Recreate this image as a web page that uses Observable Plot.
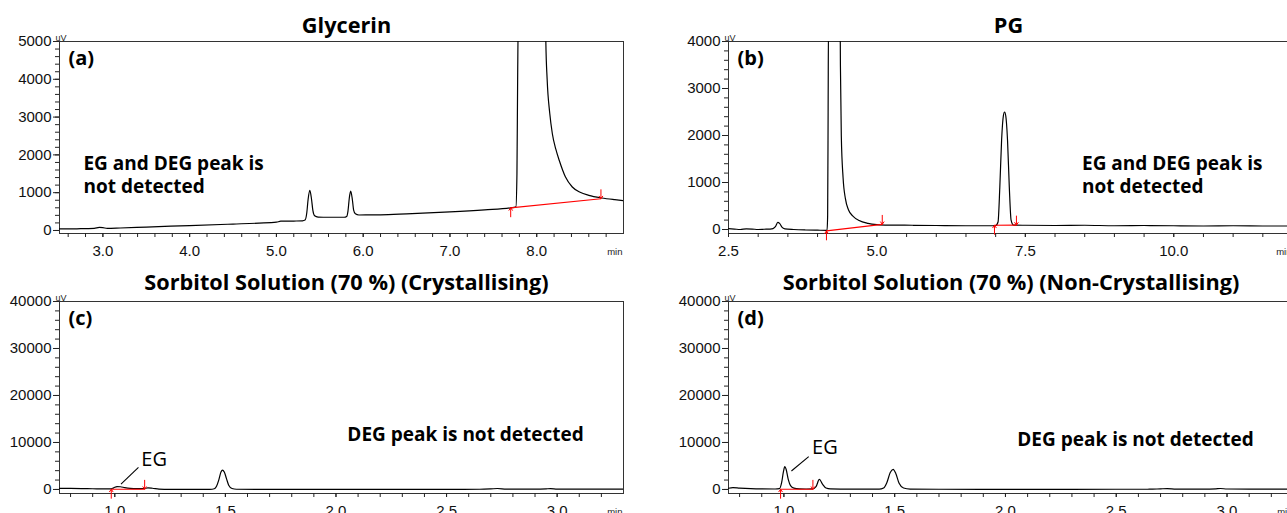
<!DOCTYPE html>
<html>
<head>
<meta charset="utf-8">
<script src="https://cdn.jsdelivr.net/npm/d3@7"></script>
<script src="https://cdn.jsdelivr.net/npm/@observablehq/plot@0.6"></script>
<style>
  body { margin: 0; background: #fff; }
  #chart { position: relative; width: 1287px; height: 513px; overflow: hidden; background: #fff; }
  #chart > div { position: absolute; }
  #chart svg { max-width: none !important; }
</style>
</head>
<body>
<div id="chart"></div>
<script>
// ---------- Panel titles / labels ----------
const panelTitles = ["Glycerin", "PG", "Sorbitol Solution (70 %) (Crystallising)", "Sorbitol Solution (70 %) (Non-Crystallising)"];
const panelTags = ["(a)", "(b)", "(c)", "(d)"];

// ---------- Axis ticks ----------
const glyXTicks = [3, 4, 5, 6, 7, 8];
const glyYTicks = [0, 1000, 2000, 3000, 4000, 5000];
const pgXTicks = [2.5, 5, 7.5, 10];
const pgYTicks = [0, 1000, 2000, 3000, 4000];
const sorbXTicks = [1.0, 1.5, 2.0, 2.5, 3.0];
const sorbYTicks = [0, 10000, 20000, 30000, 40000];

// ---------- Axis extents ----------
const glyXDomain = [2.5, 9.0];
const glyYDomain = [-80, 5000];
const pgXDomain = [2.5, 12.0];
const pgYDomain = [-85, 4000];
const sorbXDomain = [0.75, 3.3];
const sorbYDomain = [-860, 40000];

// ---------- Chromatogram traces [time (min), signal (uV)] ----------
const glycerinTrace = [
  [2.50, 40], [2.70, 45], [2.90, 55], [2.96, 80], [3.00, 75], [3.05, 55], [3.20, 65], [3.50, 90],
  [4.00, 130], [4.50, 170], [4.80, 195], [5.00, 220], [5.05, 245], [5.20, 250], [5.30, 255],
  [5.33, 275], [5.35, 470], [5.365, 820], [5.385, 1060], [5.405, 820], [5.42, 530], [5.44, 390],
  [5.48, 355], [5.60, 350], [5.78, 350], [5.81, 370], [5.825, 520], [5.84, 860], [5.856, 1040],
  [5.875, 820], [5.89, 540], [5.91, 440], [5.95, 410], [6.20, 415], [6.50, 440], [7.00, 490],
  [7.40, 545], [7.70, 600], [7.76, 625], [7.772, 1500], [7.78, 4000], [7.79, 6000], [8.10, 6000],
  [8.105, 5000], [8.12, 4000], [8.15, 3100], [8.18, 2560], [8.22, 2150], [8.26, 1850], [8.33, 1420],
  [8.41, 1150], [8.50, 1010], [8.60, 930], [8.75, 860], [8.90, 815], [9.00, 790]
];
const pgTrace = [
  [2.5, 20], [2.6, 10], [2.7, 0], [2.8, 15], [2.9, 10], [3.0, 0], [3.1, 5], [3.2, 10], [3.25, 20],
  [3.29, 60], [3.33, 150], [3.36, 130], [3.4, 50], [3.45, 15], [3.6, 0], [3.8, -10], [4.0, -15],
  [4.16, -18], [4.17, 300], [4.178, 2500], [4.185, 4500], [4.38, 4500], [4.385, 3500], [4.40, 2000],
  [4.43, 1100], [4.47, 650], [4.52, 420], [4.6, 280], [4.7, 190], [4.85, 130], [5.0, 105], [5.2, 95],
  [5.6, 90], [6.0, 85], [6.5, 80], [6.9, 80], [7.0, 85], [7.04, 160], [7.07, 900], [7.1, 1900],
  [7.13, 2420], [7.15, 2500], [7.17, 2420], [7.2, 1900], [7.23, 900], [7.26, 200], [7.3, 95],
  [7.5, 90], [8.0, 85], [8.5, 90], [9.0, 80], [9.5, 85], [10.0, 80], [10.5, 75], [11.0, 80],
  [11.5, 75], [12.0, 75]
];
const crystallisingTrace = [
  [0.75, 250], [0.8, 220], [0.85, 180], [0.9, 150], [0.95, 110], [0.98, 120], [0.995, 350],
  [1.01, 600], [1.025, 580], [1.045, 380], [1.07, 220], [1.1, 160], [1.13, 200], [1.15, 330],
  [1.17, 260], [1.2, 90], [1.25, 30], [1.35, 20], [1.43, 25], [1.45, 150], [1.46, 700], [1.47, 2000],
  [1.48, 3700], [1.487, 4130], [1.495, 3700], [1.505, 2300], [1.515, 900], [1.53, 200], [1.55, 40],
  [1.7, 20], [2.0, 15], [2.3, 20], [2.5, 30], [2.65, 40], [2.7, 120], [2.73, 200], [2.77, 80],
  [2.9, 50], [2.95, 120], [2.97, 180], [3.0, 90], [3.1, 70], [3.2, 80], [3.3, 60]
];
const nonCrystallisingTrace = [
  [0.75, 250], [0.77, 400], [0.8, 300], [0.85, 180], [0.9, 120], [0.96, 100], [0.98, 160],
  [0.99, 1500], [0.998, 3800], [1.004, 4840], [1.01, 4300], [1.02, 2100], [1.03, 800], [1.045, 280],
  [1.07, 130], [1.1, 100], [1.13, 130], [1.145, 600], [1.16, 2140], [1.175, 1100], [1.19, 300],
  [1.21, 110], [1.3, 50], [1.43, 50], [1.45, 300], [1.465, 1500], [1.48, 3600], [1.493, 4280],
  [1.505, 3400], [1.52, 1300], [1.54, 300], [1.57, 80], [1.7, 40], [2.0, 30], [2.3, 35], [2.5, 40],
  [2.65, 50], [2.7, 130], [2.73, 180], [2.77, 80], [2.9, 60], [2.95, 140], [2.97, 200], [3.0, 100],
  [3.1, 80], [3.3, 90]
];

// ---------- Integration baselines [t1, v1, t2, v2] ----------
const glycerinBaselines = [[7.70, 600, 8.74, 840]];
const pgBaselines = [[4.15, -30, 5.09, 110], [6.98, 90, 7.35, 95]];
const crystallisingBaselines = [[0.984, 40, 1.135, 40]];
const nonCrystallisingBaselines = [[0.985, 40, 1.131, 40]];

// ---------- Annotations ----------
const glycerinNote = [{t: 2.776, v: 1480, text: "EG and DEG peak is\nnot detected"}];
const pgNote = [{t: 8.455, v: 1174, text: "EG and DEG peak is\nnot detected"}];
const crystallisingNote = [{t: 2.586, v: 11840, text: "DEG peak is not detected"}];
const nonCrystallisingNote = [{t: 2.587, v: 10700, text: "DEG peak is not detected"}];
// EG label [text position t, v] and leader line [t1, v1, t2, v2]
const crystallisingEG = [{t: 1.178, v: 6270, text: "EG"}];
const crystallisingEGLeader = [[1.028, 1135, 1.107, 4710]];
const nonCrystallisingEG = [{t: 1.185, v: 8840, text: "EG"}];
const nonCrystallisingEGLeader = [[1.034, 3920, 1.112, 6980]];

// ---------- Helpers ----------
const toPts = (arr) => arr.map(([t, v]) => ({t, v}));
const toSegs = (arr) => arr.map(([t1, v1, t2, v2]) => ({t1, v1, t2, v2}));
const fmt1 = (d) => d.toFixed(1);
const MT = 41, MB = 29;

function panel(cfg) {
  const segs = toSegs(cfg.baselines);
  // arrow marker length: 9 px expressed in the y scale's units
  const off = (cfg.yDomain[1] - cfg.yDomain[0]) / (cfg.height - MT - MB) * 9;
  const starts = segs.map(s => ({t: s.t1, v: s.v1, v0: s.v1 - off}));
  const ends = segs.map(s => ({t: s.t2, v: s.v2, v0: s.v2 + off}));
  const marks = [
    Plot.frame({stroke: "#333", strokeWidth: 1}),
    Plot.axisY(cfg.yMinor, {tickSize: 4, tickFormat: () => "", stroke: "#222"}),
    Plot.axisY(cfg.yTicks, {tickSize: 6, tickPadding: 2, tickFormat: d => String(d), stroke: "#222", fill: "#111"}),
    Plot.axisX(cfg.xMinor, {tickSize: 4, tickFormat: () => "", stroke: "#222"}),
    Plot.axisX(cfg.xTicks, {tickSize: 4, tickPadding: 8, tickFormat: fmt1, stroke: "#222", fill: "#111"}),
    Plot.line(toPts(cfg.trace), {x: "t", y: "v", curve: "monotone-x", stroke: "#000", strokeWidth: 1.2, clip: true}),
    Plot.link(segs, {x1: "t1", y1: "v1", x2: "t2", y2: "v2", stroke: "#ff0000", strokeWidth: 1.2}),
    Plot.arrow(starts, {x1: "t", y1: "v0", x2: "t", y2: "v", headLength: 5, headAngle: 70, stroke: "#ff0000", strokeWidth: 1}),
    Plot.arrow(ends, {x1: "t", y1: "v0", x2: "t", y2: "v", headLength: 5, headAngle: 70, stroke: "#ff0000", strokeWidth: 1}),
    Plot.text([cfg.title], {frameAnchor: "top", lineAnchor: "middle", dx: cfg.titleDx, dy: cfg.titleDy, fontFamily: "Open Sans", fontWeight: "bold", fontSize: 21.7, fill: "#000"}),
    Plot.text([cfg.tag], {frameAnchor: "top-left", lineAnchor: "middle", dx: 9, dy: 17, textAnchor: "start", fontFamily: "Open Sans", fontWeight: "bold", fontSize: 20, fill: "#000"}),
    Plot.text(["uV"], {frameAnchor: "top-left", lineAnchor: "bottom", dx: -4, dy: -1, textAnchor: "start", fontSize: 9, fill: "#222"}),
    Plot.text(["min"], {frameAnchor: "bottom-right", lineAnchor: "middle", dx: -1, dy: 18, textAnchor: "end", fontSize: 9.5, fill: "#222"}),
    Plot.text(cfg.note, {x: "t", y: "v", text: "text", textAnchor: cfg.noteAnchor, lineHeight: 1.2, fontFamily: "Open Sans", fontWeight: "bold", fontSize: 19, fill: "#000"})
  ];
  if (cfg.eg) {
    marks.push(Plot.link(toSegs(cfg.egLeader), {x1: "t1", y1: "v1", x2: "t2", y2: "v2", stroke: "#000", strokeWidth: 1.1}));
    marks.push(Plot.text(cfg.eg, {x: "t", y: "v", text: "text", fontFamily: "Open Sans", fontSize: 20, fill: "#000"}));
  }
  const svg = Plot.plot({
    width: cfg.width, height: cfg.height,
    marginLeft: cfg.marginLeft, marginRight: cfg.marginRight, marginTop: MT, marginBottom: MB,
    x: {domain: cfg.xDomain},
    y: {domain: cfg.yDomain},
    style: {fontFamily: "'Liberation Sans', Arial, sans-serif", fontSize: "15px", background: "transparent", color: "#000", overflow: "visible", maxWidth: "none"},
    marks
  });
  svg.style.maxWidth = "none";
  const wrap = document.createElement("div");
  wrap.style.left = cfg.left + "px";
  wrap.style.top = cfg.top + "px";
  wrap.style.width = cfg.width + "px";
  wrap.style.height = cfg.height + "px";
  wrap.appendChild(svg);
  document.getElementById("chart").appendChild(wrap);
}

const r = (a, b, s, k) => d3.range(a, b + s / 2, s).map(d => +(d / k).toFixed(2));

panel({
  left: 0, top: 0, width: 640, height: 262, marginLeft: 59, marginRight: 17,
  xDomain: glyXDomain, yDomain: glyYDomain, xTicks: glyXTicks, yTicks: glyYTicks,
  xMinor: r(26, 88, 2, 10), yMinor: r(0, 5000, 200, 1),
  trace: glycerinTrace, baselines: glycerinBaselines, note: glycerinNote, noteAnchor: "start",
  title: panelTitles[0], tag: panelTags[0], titleDx: 5, titleDy: -15
});
panel({
  left: 640, top: 0, width: 660, height: 262, marginLeft: 88, marginRight: 8,
  xDomain: pgXDomain, yDomain: pgYDomain, xTicks: pgXTicks, yTicks: pgYTicks,
  xMinor: r(30, 120, 5, 10), yMinor: r(0, 4000, 200, 1),
  trace: pgTrace, baselines: pgBaselines, note: pgNote, noteAnchor: "start",
  title: panelTitles[1], tag: panelTags[1], titleDx: -2, titleDy: -15
});
panel({
  left: 0, top: 260, width: 640, height: 262, marginLeft: 59, marginRight: 17,
  xDomain: sorbXDomain, yDomain: sorbYDomain, xTicks: sorbXTicks, yTicks: sorbYTicks,
  xMinor: r(8, 32, 1, 10), yMinor: r(0, 40000, 2000, 1),
  trace: crystallisingTrace, baselines: crystallisingBaselines, note: crystallisingNote, noteAnchor: "middle",
  eg: crystallisingEG, egLeader: crystallisingEGLeader,
  title: panelTitles[2], tag: panelTags[2], titleDx: 5, titleDy: -18
});
panel({
  left: 640, top: 260, width: 660, height: 262, marginLeft: 88, marginRight: 7,
  xDomain: sorbXDomain, yDomain: sorbYDomain, xTicks: sorbXTicks, yTicks: sorbYTicks,
  xMinor: r(8, 32, 1, 10), yMinor: r(0, 40000, 2000, 1),
  trace: nonCrystallisingTrace, baselines: nonCrystallisingBaselines, note: nonCrystallisingNote, noteAnchor: "middle",
  eg: nonCrystallisingEG, egLeader: nonCrystallisingEGLeader,
  title: panelTitles[3], tag: panelTags[3], titleDx: 0, titleDy: -18
});
</script>
</body>
</html>
